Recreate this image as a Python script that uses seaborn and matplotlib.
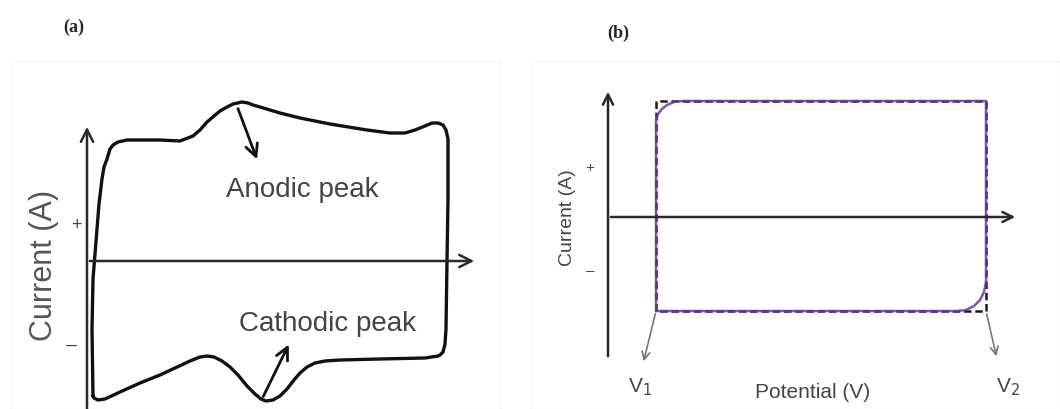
import matplotlib
matplotlib.use("Agg")
import matplotlib.pyplot as plt
import seaborn as sns

# ---- panel (a): CV with redox peaks (potential, current in arbitrary units)
cv_a_potential = [0.6, 0.5, 0.6, 0.8, 1.0, 1.2, 1.5, 1.7, 2.0, 2.3, 2.6, 3.1, 4.0, 5.0,
                  7.3, 9.3, 10.6, 11.3, 12.0, 12.7, 13.3, 14.0, 14.6, 15.5, 16.1, 16.6,
                  17.3, 18.3, 19.3, 21.3, 24.3, 28.0, 30.3, 31.8, 32.8, 33.8, 34.5, 35.1,
                  35.6, 35.9, 36.1, 36.1, 36.0, 35.9, 35.8, 35.6, 35.3, 35.1, 33.8, 29.3,
                  25.3, 23.8, 22.8, 22.0, 21.3, 20.7, 20.0, 19.3, 18.6, 17.9, 17.4, 16.8,
                  16.0, 15.1, 14.3, 13.5, 12.7, 12.0, 11.3, 10.3, 8.8, 7.3, 5.3, 3.3,
                  1.8, 1.1, 0.7, 0.6]
cv_a_current = [-13.5, -6.8, -1.8, 0.7, 3.2, 5.7, 8.2, 9.4, 10.2, 11.2, 11.6, 11.9, 12.1, 12.1,
                12.1, 12.0, 12.5, 13.1, 13.9, 14.5, 15.0, 15.4, 15.7, 15.9, 15.8, 15.6,
                15.4, 15.1, 14.8, 14.3, 13.7, 13.1, 12.8, 12.8, 13.1, 13.5, 13.8, 13.8,
                13.6, 13.1, 12.2, 6.2, 0.0, -6.8, -8.3, -9.1, -9.4, -9.5, -9.7, -9.8,
                -9.9, -10.0, -10.2, -10.6, -11.2, -11.9, -12.8, -13.5, -13.9, -14.0, -13.8, -13.3,
                -12.5, -11.4, -10.6, -10.0, -9.6, -9.5, -9.6, -10.0, -10.7, -11.4, -12.2, -13.1,
                -13.8, -13.9, -13.7, -13.5]
peak_labels = ["Anodic peak", "Cathodic peak"]
peak_tip = [(15.0, 15.5), (17.5, -13.8)]
peak_arrow_end = [(17.1, 9.9), (20.3, -8.1)]
peak_text_pos = [(21.5, 7.2), (24.1, -6.2)]

# ---- panel (b): ideal capacitor (dashed) and real EDLC (purple)
ideal_potential = [4.8, 4.8, 37.8, 37.8, 4.8]
ideal_current = [-9.4, 11.6, 11.6, -9.4, -9.4]
edlc_potential = [4.8, 4.8, 5.0, 5.4, 5.9, 6.6, 7.4, 37.8, 37.8, 37.6, 37.2, 36.6, 35.8, 34.9, 4.8]
edlc_current = [-9.4, 9.6, 10.3, 10.8, 11.2, 11.5, 11.6, 11.6, -6.5, -7.5, -8.3, -8.9, -9.3, -9.4, -9.4]
vertex_labels = ["V$_1$", "V$_2$"]
vertex_start = [(4.8, -9.4), (37.8, -9.4)]
vertex_tip = [(3.5, -14.7), (38.9, -14.2)]
vertex_text_pos = [(3.2, -16.9), (40.0, -16.9)]

sns.set_theme(style="white")
plt.rcParams["font.family"] = ["Liberation Sans", "DejaVu Sans"]

W, H = 1060, 410
fig = plt.figure(figsize=(W / 100, H / 100), dpi=100)
ax_a = fig.add_axes([10 / W, 0, 490 / W, 348 / H])
ax_b = fig.add_axes([530 / W, 0, 530 / W, 348 / H])

TXT = "#444444"
AX = "#2a2a2a"

for ax in (ax_a, ax_b):
    ax.set_xticks([])
    ax.set_yticks([])
    for s in ax.spines.values():
        s.set_color("#f5f5f5")
        s.set_linewidth(1)

# ---------------- panel (a)
ax_a.set_xlim(-7.7, 41.3)
ax_a.set_ylim(-14.8, 20.0)
arrow_ax = dict(arrowstyle="->", lw=1.8, color=AX, mutation_scale=22)
ax_a.annotate("", xy=(0, 13.7), xytext=(0, -16), arrowprops=arrow_ax, annotation_clip=False)
ax_a.annotate("", xy=(39.0, 0), xytext=(0, 0), arrowprops=arrow_ax)
sns.lineplot(x=cv_a_potential, y=cv_a_current, sort=False, estimator=None, ax=ax_a,
             color="#111111", lw=2.4, solid_joinstyle="round")
for lab, tip, end, pos in zip(peak_labels, peak_tip, peak_arrow_end, peak_text_pos):
    ax_a.annotate("", xy=end, xytext=tip,
                  arrowprops=dict(arrowstyle="->", lw=2, color="#111111", mutation_scale=22))
    ax_a.text(pos[0], pos[1], lab, ha="center", va="center", fontsize=20, color=TXT)
ax_a.text(-1.1, 3.6, "+", ha="center", va="center", fontsize=13, color=TXT)
ax_a.text(-1.5, -8.3, "\u2013", ha="center", va="center", fontsize=14, color=TXT)
ax_a.text(-4.3, -0.3, "Current (A)", rotation=90, ha="center", va="center",
          fontsize=22, color="#555555")

# ---------------- panel (b)
ax_b.set_xlim(-7.8, 45.2)
ax_b.set_ylim(-19.2, 15.6)
arrow_bx = dict(arrowstyle="->", lw=1.8, color=AX, mutation_scale=18)
ax_b.annotate("", xy=(0, 12.8), xytext=(0, -14.2), arrowprops=arrow_bx)
ax_b.annotate("", xy=(41.0, 0), xytext=(0, 0), arrowprops=arrow_bx)
sns.lineplot(x=ideal_potential, y=ideal_current, sort=False, estimator=None, ax=ax_b,
             color="#1a1a1a", lw=1.8, linestyle=(0, (3, 1.5)))
sns.lineplot(x=edlc_potential, y=edlc_current, sort=False, estimator=None, ax=ax_b,
             color="#6b35b0", lw=1.8, alpha=0.85)
for lab, st, tip, pos in zip(vertex_labels, vertex_start, vertex_tip, vertex_text_pos):
    ax_b.annotate("", xy=tip, xytext=st,
                  arrowprops=dict(arrowstyle="->", lw=1.2, color="#777777", mutation_scale=14))
    ax_b.text(pos[0], pos[1], lab, ha="center", va="center", fontsize=15, color=TXT)
ax_b.text(20.5, -17.4, "Potential (V)", ha="center", va="center", fontsize=15, color=TXT)
ax_b.text(-4.1, 0, "Current (A)", rotation=90, ha="center", va="center", fontsize=14, color=TXT)
ax_b.text(-1.8, 5.0, "+", ha="center", va="center", fontsize=11, color=TXT)
ax_b.text(-1.8, -5.3, "\u2013", ha="center", va="center", fontsize=11, color=TXT)

# panel letters
fig.text(74 / W, 1 - 27 / H, "(a)", ha="center", va="center", fontsize=13,
         fontweight="bold", family="Liberation Serif")
fig.text(618 / W, 1 - 33 / H, "(b)", ha="center", va="center", fontsize=13,
         fontweight="bold", family="Liberation Serif")

fig.savefig("out.png", dpi=100)
